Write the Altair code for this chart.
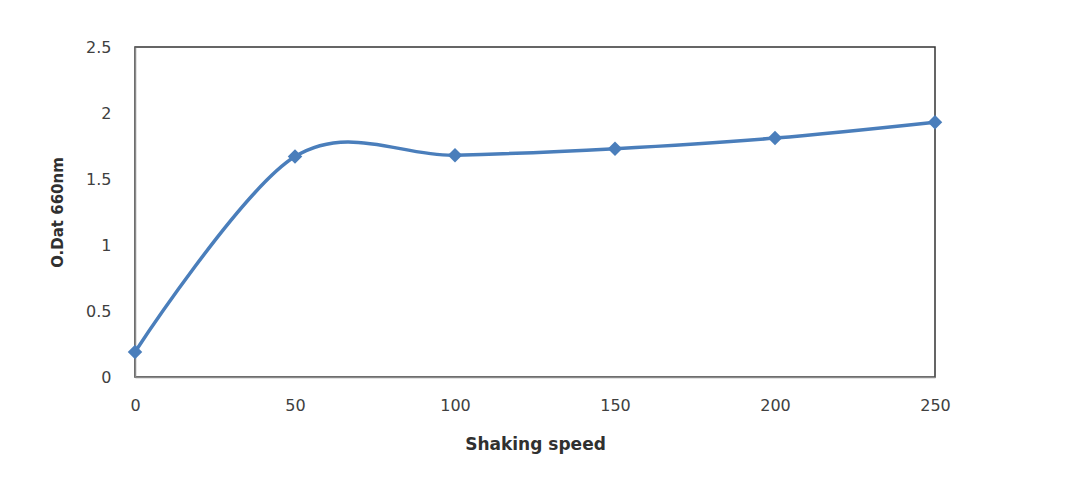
import altair as alt
import pandas as pd

speeds = [0, 50, 100, 150, 200, 250]
od_values = [0.19, 1.67, 1.68, 1.73, 1.81, 1.93]
y_ticks = [0, 0.5, 1, 1.5, 2, 2.5]

df = pd.DataFrame({"speed": speeds, "od": od_values})

common = dict(
    grid=False, ticks=False, domainColor="#8a8a8a", domainWidth=1.5,
    labelFontSize=16, labelColor="#404040", labelFont="DejaVu Sans",
    titleColor="#303030", titleFontWeight="bold", titleFont="DejaVu Sans",
    labelExpr="'' + datum.value", labelFlush=False,
)

x_enc = alt.X(
    "speed:Q",
    scale=alt.Scale(domain=[0, 250], nice=False, zero=False),
    axis=alt.Axis(
        values=speeds, title="Shaking speed", labelPadding=20,
        titleY=67, titleBaseline="middle", titleFontSize=17, **common,
    ),
)
y_enc = alt.Y(
    "od:Q",
    scale=alt.Scale(domain=[0, 2.5], nice=False),
    axis=alt.Axis(
        values=y_ticks, title="O.Dat 660nm", labelPadding=24,
        titleX=-78, titleY=165, titleBaseline="middle", titleAngle=-90,
        titleFontSize=15, **common,
    ),
)

line = alt.Chart(df).mark_line(
    color="#4a7ebb", strokeWidth=3.5, interpolate="cardinal"
).encode(x=x_enc, y=y_enc)

points = alt.Chart(df).mark_point(
    shape="diamond", filled=True, color="#4a7ebb", size=210, opacity=1
).encode(x="speed:Q", y="od:Q")

chart = (line + points).properties(
    width=800, height=330,
    background="white",
    autosize=alt.AutoSizeParams(type="none"),
    padding={"left": 127, "top": 39, "right": 148, "bottom": 90},
).configure_view(stroke="#333333", strokeWidth=1.5)

chart.save("out.html", embed_options={"renderer": "svg", "actions": False})
